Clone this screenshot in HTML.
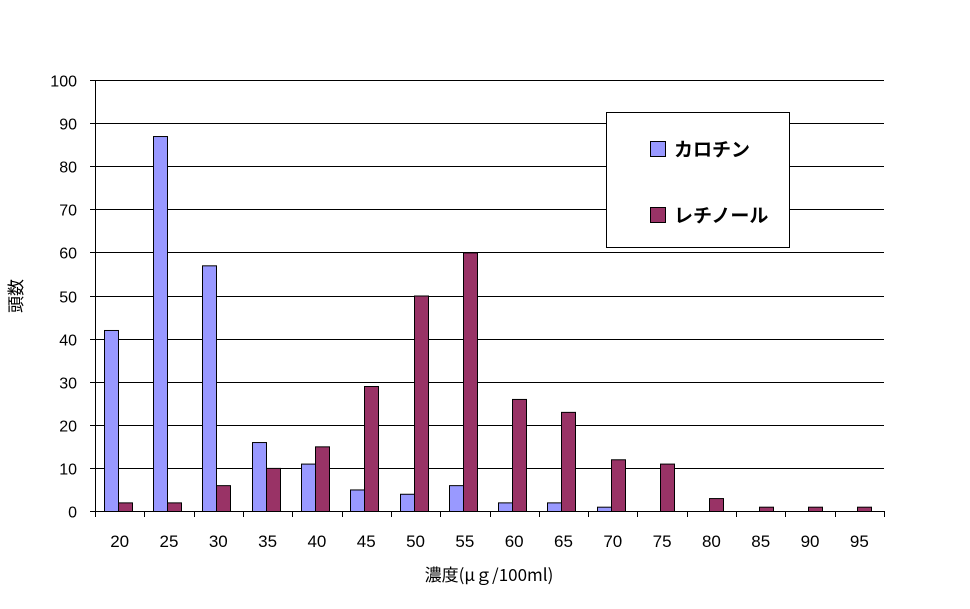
<!DOCTYPE html>
<html><head><meta charset="utf-8"><style>
body{margin:0;background:#fff;}
svg text{font-family:"Liberation Sans","Noto Sans CJK JP",sans-serif;}
</style></head><body>
<svg width="970" height="604" viewBox="0 0 970 604" xmlns="http://www.w3.org/2000/svg">
<g id="grid"></g>
<g id="bars"></g>
<g id="axes"></g>
<text x="22" y="296" font-size="17" text-anchor="middle" transform="rotate(-90 22 296)">頭数</text>
<text x="489" y="581" font-size="17" text-anchor="middle" style="font-family:'Noto Sans CJK JP',sans-serif">濃度(μｇ/100ml)</text>
<g>
<rect x="606.5" y="112.5" width="183" height="135" fill="#fff" stroke="#000"/>
<rect x="650.5" y="141.5" width="15" height="15" fill="#9999ff" stroke="#000"/>
<text x="674" y="156" font-size="19" font-weight="bold">カロチン</text>
<rect x="650.5" y="207.5" width="15" height="15" fill="#993366" stroke="#000"/>
<text x="674" y="222" font-size="19" font-weight="bold">レチノール</text>
</g>
</svg>
<script>
const categories=["20","25","30","35","40","45","50","55","60","65","70","75","80","85","90","95"];
const carotene=[42,87,57,16,11,5,4,6,2,2,1,0,0,0,0,0];
const retinol=[2,2,6,10,15,29,50,60,26,23,12,11,3,1,1,1];
const yTicks=[0,10,20,30,40,50,60,70,80,90,100];
const NS="http://www.w3.org/2000/svg";
const L=95,R=884,T=80,B=511;
const step=(R-L)/categories.length;
const y=v=>B-(v/100)*(B-T);
const x=i=>L+i*step;
function mk(t,a,p){const e=document.createElementNS(NS,t);for(const k in a)e.setAttribute(k,a[k]);p.appendChild(e);return e;}
const grid=document.getElementById('grid'),bars=document.getElementById('bars'),axes=document.getElementById('axes');
yTicks.forEach(v=>{
  const yy=Math.round(y(v))+0.5;
  if(v>0){const g=mk('line',{x1:L,x2:R,y1:yy,y2:yy,stroke:'#000'},grid);
  
  }
  const tk=mk('line',{x1:L-5,x2:L,y1:yy,y2:yy,stroke:'#000'},axes);
  
  
  const t=mk('text',{x:L-18,y:yy+6,'font-size':16,'text-anchor':'end'},axes);
  
  
  t.textContent=v;
});
const bw=14;
categories.forEach((c,i)=>{
  const cx=Math.round(x(i)+step/2-2);
  const b1=mk('rect',{x:cx-bw+0.5,y:y(carotene[i])+0.5,width:bw,height:Math.max(0,B-y(carotene[i])),fill:'#9999ff',stroke:'#000'},bars);
  
  
  const b2=mk('rect',{x:cx+0.5,y:y(retinol[i])+0.5,width:bw,height:Math.max(0,B-y(retinol[i])),fill:'#993366',stroke:'#000'},bars);
  
  
  const t=mk('text',{x:x(i)+step/2,y:547,'font-size':17,'text-anchor':'middle'},axes);
  
  
  t.textContent=c;
});
for(let i=0;i<=categories.length;i++){
  const xx=Math.round(x(i))+0.5;
  const tk=mk('line',{x1:xx,x2:xx,y1:B,y2:B+6,stroke:'#000'},axes);
  
  
}
const ya=mk('line',{x1:L+0.5,x2:L+0.5,y1:T,y2:B+0.5,stroke:'#000'},axes);


const xa=mk('line',{x1:L,x2:R,y1:B+0.5,y2:B+0.5,stroke:'#000'},axes);


</script>
</body></html>
